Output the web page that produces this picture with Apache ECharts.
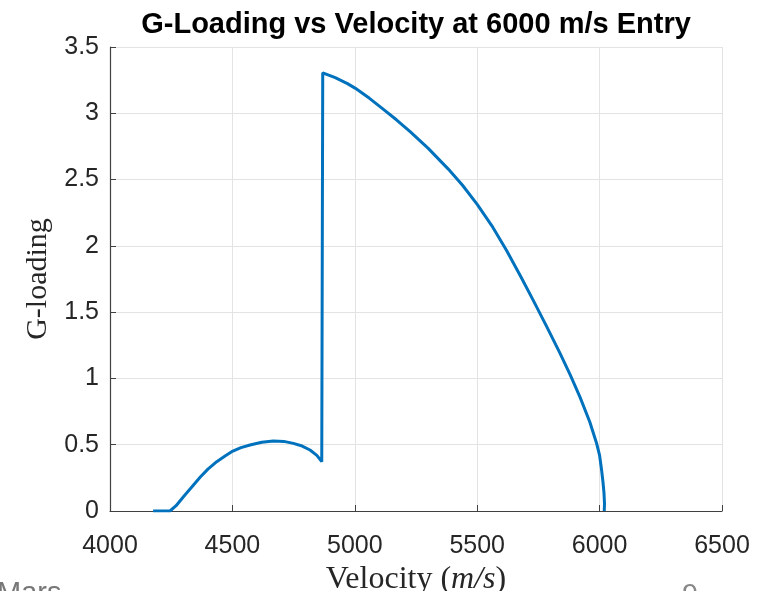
<!DOCTYPE html>
<html>
<head>
<meta charset="utf-8">
<script src="https://cdn.jsdelivr.net/npm/echarts@6/dist/echarts.min.js"></script>
<style>
html,body{margin:0;padding:0;background:#fff;}
#chart{width:773px;height:591px;}
</style>
</head>
<body>
<div id="chart"></div>
<script>
// Data
var velocity = [4176, 4245, 4270, 4300, 4335, 4368, 4400, 4436, 4470, 4497, 4535, 4572, 4620, 4667, 4710, 4749, 4785, 4817, 4845, 4865,
                4869, 4920, 4970, 5001, 5060, 5117, 5170, 5226, 5300, 5382, 5440, 5500, 5560, 5620, 5680, 5729, 5785, 5838, 5880, 5920, 5960, 5988, 6000, 6008, 6014, 6018, 6020, 6019];
var gLoading = [0, 0, 0.04, 0.108, 0.183, 0.255, 0.316, 0.372, 0.415, 0.447, 0.478, 0.498, 0.518, 0.528, 0.525, 0.51, 0.49, 0.46, 0.42, 0.372,
                3.305, 3.269, 3.224, 3.19, 3.113, 3.03, 2.951, 2.861, 2.735, 2.579, 2.457, 2.313, 2.151, 1.965, 1.761, 1.589, 1.387, 1.191, 1.027, 0.859, 0.671, 0.509, 0.419, 0.311, 0.215, 0.135, 0.055, 0];
var xTicks = [4000, 4500, 5000, 5500, 6000, 6500];
var yTicks = [0, 0.5, 1, 1.5, 2, 2.5, 3, 3.5];
var titleText = 'G-Loading vs Velocity at 6000 m/s Entry';

var pts = velocity.map(function (v, i) { return [v, gLoading[i]]; });

var chart = echarts.init(document.getElementById('chart'), null, {renderer: 'canvas'});
var axisCol = '#404040';
var gridCol = '#e3e3e3';
chart.setOption({
  animation: false,
  backgroundColor: '#ffffff',
  grid: {left: 110, right: 51, top: 47, bottom: 80, containLabel: false, outerBoundsMode: 'none'},
  xAxis: {
    type: 'value',
    min: xTicks[0], max: xTicks[xTicks.length - 1], interval: 500,
    name: '{n|Velocity (}{i|m/s}{n|)}',
    nameLocation: 'middle', nameGap: 51,
    nameTextStyle: {
      rich: {
        n: {fontFamily: 'Liberation Serif, DejaVu Serif, serif', fontSize: 32, color: '#262626'},
        i: {fontFamily: 'Liberation Serif, DejaVu Serif, serif', fontStyle: 'italic', fontSize: 32, color: '#262626'}
      }
    },
    axisLine: {show: true, lineStyle: {color: axisCol, width: 1.2}},
    axisTick: {show: true, inside: true, length: 6, lineStyle: {color: axisCol}},
    axisLabel: {margin: 23, fontFamily: 'Liberation Sans, Arial, sans-serif', fontSize: 25, color: '#262626',
      formatter: function (v) { return String(v); }},
    splitLine: {show: true, lineStyle: {color: gridCol, width: 1}}
  },
  yAxis: {
    type: 'value',
    min: yTicks[0], max: yTicks[yTicks.length - 1], interval: 0.5,
    name: 'G-loading',
    nameLocation: 'middle', nameGap: 54,
    nameTextStyle: {fontFamily: 'Liberation Serif, DejaVu Serif, serif', fontSize: 30, color: '#262626'},
    axisLine: {show: true, lineStyle: {color: axisCol, width: 1.2}},
    axisTick: {show: true, inside: true, length: 6, lineStyle: {color: axisCol}},
    axisLabel: {margin: 11, fontFamily: 'Liberation Sans, Arial, sans-serif', fontSize: 25, color: '#262626',
      formatter: function (v) { return String(v); }},
    splitLine: {show: true, lineStyle: {color: gridCol, width: 1}}
  },
  series: [{
    type: 'line',
    data: pts,
    showSymbol: false,
    smooth: false,
    lineStyle: {color: '#0072BD', width: 3},
    itemStyle: {color: '#0072BD'}
  }],
  graphic: [
    {type: 'text', x: 416, y: 10, style: {text: titleText, align: 'center', verticalAlign: 'top', fontFamily: 'Liberation Sans, Arial, sans-serif', fontSize: 29, fontWeight: 'bold', fill: '#000'}},
    {type: 'text', x: -3, y: 579, style: {text: 'Mars', verticalAlign: 'top', fontFamily: 'Liberation Sans, Arial, sans-serif', fontSize: 29, fill: '#777777'}},
    {type: 'text', x: 682, y: 581, style: {text: '9', verticalAlign: 'top', fontFamily: 'Liberation Sans, Arial, sans-serif', fontSize: 29, fill: '#888888'}}
  ]
});
</script>
</body>
</html>
